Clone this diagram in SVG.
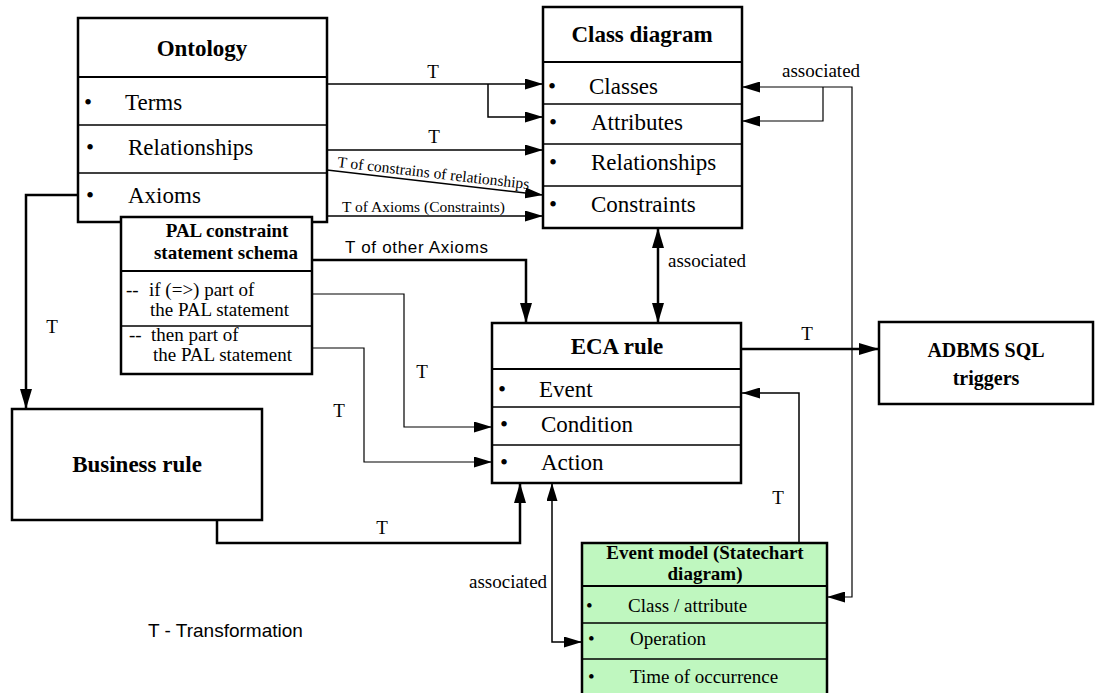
<svg xmlns="http://www.w3.org/2000/svg" width="1102" height="693" viewBox="0 0 1102 693">
<style>
.box{fill:#fff;stroke:#000;stroke-width:2.5}
.sep{stroke:#000;stroke-width:1.5}
.hsep{stroke:#000;stroke-width:2}
.t{font-family:"Liberation Serif","Times New Roman",serif;fill:#000}
.b{font-weight:bold;text-anchor:middle}
.s{font-family:"Liberation Sans",Arial,sans-serif;fill:#000}
.c1{fill:none;stroke:#000;stroke-width:1.5}
.c0{fill:none;stroke:#000;stroke-width:1.2}
.c2{fill:none;stroke:#000;stroke-width:2.5}
</style>
<defs>
<marker id="ah" markerUnits="userSpaceOnUse" markerWidth="20" markerHeight="12" refX="20" refY="6" orient="auto-start-reverse" viewBox="0 0 20 12"><path d="M0,0 L20,6 L0,12 z" fill="#000"/></marker>
<marker id="as" markerUnits="userSpaceOnUse" markerWidth="18" markerHeight="11" refX="18" refY="5.5" orient="auto-start-reverse" viewBox="0 0 18 11"><path d="M0,0 L18,5.5 L0,11 z" fill="#000"/></marker>
</defs>
<rect width="1102" height="693" fill="#fff"/>

<g id="connectors">
<path class="c1" d="M327,84 H543" marker-end="url(#as)"/>
<path class="c1" d="M488,84 V117 H543" marker-end="url(#as)"/>
<path class="c1" d="M327,150 H543" marker-end="url(#as)"/>
<path class="c1" d="M327,170 L543,195" marker-end="url(#as)"/>
<path class="c1" d="M327,216 H543" marker-end="url(#as)"/>
<path class="c2" d="M312,260 H526 V323" marker-end="url(#ah)"/>
<path class="c0" d="M312,294 H404 V427 H492" marker-end="url(#as)"/>
<path class="c0" d="M312,348 H364 V462 H492" marker-end="url(#as)"/>
<path class="c2" d="M78,195 H26 V409" marker-end="url(#ah)"/>
<path class="c2" d="M217,520 V543 H520 V483" marker-end="url(#ah)"/>
<path class="c2" d="M658,228 V323" marker-start="url(#ah)" marker-end="url(#ah)"/>
<path class="c2" d="M741,349 H879" marker-end="url(#ah)"/>
<path class="c1" d="M799,543 V393 H742" marker-end="url(#as)"/>
<path class="c0" d="M742,87 H852 V597 H827" marker-start="url(#as)" marker-end="url(#as)"/>
<path class="c0" d="M823,87 V121 H742" marker-end="url(#as)"/>
<path class="c1" d="M552,483 V642 H582" marker-start="url(#as)" marker-end="url(#as)"/>
<text class="t" x="433" y="78" font-size="19" text-anchor="middle">T</text>
<text class="t" x="434" y="143" font-size="19" text-anchor="middle">T</text>
<text class="t" x="337" y="167" font-size="15.5" transform="rotate(6.6 337 167)" textLength="193">T of constrains of relationships</text>
<text class="t" x="342" y="212" font-size="15.5" textLength="163">T of Axioms (Constraints)</text>
<text class="s" x="345" y="253" font-size="17" textLength="143">T of other Axioms</text>
<text class="t" x="668" y="267" font-size="19">associated</text>
<text class="t" x="782" y="77" font-size="19">associated</text>
<text class="t" x="807" y="340" font-size="19" text-anchor="middle">T</text>
<text class="t" x="778" y="504" font-size="19" text-anchor="middle">T</text>
<text class="t" x="469" y="588" font-size="19">associated</text>
<text class="t" x="52" y="333" font-size="19" text-anchor="middle">T</text>
<text class="t" x="339" y="417" font-size="19" text-anchor="middle">T</text>
<text class="t" x="422" y="378" font-size="19" text-anchor="middle">T</text>
<text class="t" x="382" y="534" font-size="19" text-anchor="middle">T</text>
</g>

<g id="ontology">
<rect class="box" x="78" y="18" width="249" height="204"/>
<line class="hsep" x1="78" y1="77" x2="327" y2="77"/>
<line class="sep" x1="78" y1="125" x2="327" y2="125"/>
<line class="sep" x1="78" y1="173" x2="327" y2="173"/>
<text class="t b" x="202" y="56" font-size="23">Ontology</text>
<text class="t" x="84" y="110" font-size="23">•</text>
<text class="t" x="125" y="110" font-size="23">Terms</text>
<text class="t" x="86" y="155" font-size="23">•</text>
<text class="t" x="128" y="155" font-size="23">Relationships</text>
<text class="t" x="86" y="203" font-size="23">•</text>
<text class="t" x="128" y="203" font-size="23">Axioms</text>
</g>

<g id="pal">
<rect class="box" x="121" y="217" width="191" height="157"/>
<line class="hsep" x1="121" y1="271" x2="312" y2="271"/>
<line class="sep" x1="121" y1="326" x2="312" y2="326"/>
<text class="t b" x="227" y="237" font-size="19">PAL constraint</text>
<text class="t b" x="226" y="259" font-size="19">statement schema</text>
<text class="t" x="126" y="296" font-size="19">--</text>
<text class="t" x="149" y="296" font-size="19">if (=&gt;) part of</text>
<text class="t" x="150" y="316" font-size="19">the PAL statement</text>
<text class="t" x="129" y="341" font-size="19">--</text>
<text class="t" x="151" y="341" font-size="19">then part of</text>
<text class="t" x="153" y="361" font-size="19">the PAL statement</text>
</g>

<g id="class-diagram">
<rect class="box" x="543" y="7" width="199" height="221"/>
<line class="hsep" x1="543" y1="62" x2="742" y2="62"/>
<line class="sep" x1="543" y1="104" x2="742" y2="104"/>
<line class="sep" x1="543" y1="144" x2="742" y2="144"/>
<line class="sep" x1="543" y1="186" x2="742" y2="186"/>
<text class="t b" x="642" y="42" font-size="23">Class diagram</text>
<text class="t" x="548" y="94" font-size="23">•</text>
<text class="t" x="589" y="94" font-size="23">Classes</text>
<text class="t" x="549" y="130" font-size="23">•</text>
<text class="t" x="591" y="130" font-size="23">Attributes</text>
<text class="t" x="549" y="170" font-size="23">•</text>
<text class="t" x="591" y="170" font-size="23">Relationships</text>
<text class="t" x="549" y="212" font-size="23">•</text>
<text class="t" x="591" y="212" font-size="23">Constraints</text>
</g>

<g id="eca-rule">
<rect class="box" x="492" y="323" width="249" height="160"/>
<line class="hsep" x1="492" y1="369" x2="741" y2="369"/>
<line class="sep" x1="492" y1="407" x2="741" y2="407"/>
<line class="sep" x1="492" y1="445" x2="741" y2="445"/>
<text class="t b" x="617" y="354" font-size="23">ECA rule</text>
<text class="t" x="498" y="397" font-size="23">•</text>
<text class="t" x="539" y="397" font-size="23">Event</text>
<text class="t" x="500" y="432" font-size="23">•</text>
<text class="t" x="541" y="432" font-size="23">Condition</text>
<text class="t" x="500" y="470" font-size="23">•</text>
<text class="t" x="541" y="470" font-size="23">Action</text>
</g>

<g id="adbms">
<rect class="box" x="879" y="322" width="214" height="82"/>
<text class="t b" x="986" y="357" font-size="20">ADBMS SQL</text>
<text class="t b" x="986" y="385" font-size="20">triggers</text>
</g>

<g id="business-rule">
<rect class="box" x="12" y="409" width="250" height="111"/>
<text class="t b" x="137" y="472" font-size="23">Business rule</text>
</g>

<g id="event-model">
<rect class="box" x="582" y="543" width="245" height="160" style="fill:#bff7bf"/>
<line class="hsep" x1="582" y1="586" x2="827" y2="586"/>
<line class="sep" x1="582" y1="623" x2="827" y2="623"/>
<line class="sep" x1="582" y1="659" x2="827" y2="659"/>
<text class="t b" x="705" y="559" font-size="19">Event model (Statechart</text>
<text class="t b" x="705" y="580" font-size="19">diagram)</text>
<text class="t" x="586" y="612" font-size="19">•</text>
<text class="t" x="628" y="612" font-size="19">Class / attribute</text>
<text class="t" x="588" y="645" font-size="19">•</text>
<text class="t" x="630" y="645" font-size="19">Operation</text>
<text class="t" x="588" y="683" font-size="19">•</text>
<text class="t" x="630" y="683" font-size="19">Time of occurrence</text>
</g>

<g id="legend">
<text class="s" x="148" y="637" font-size="19">T - Transformation</text>
</g>
</svg>
